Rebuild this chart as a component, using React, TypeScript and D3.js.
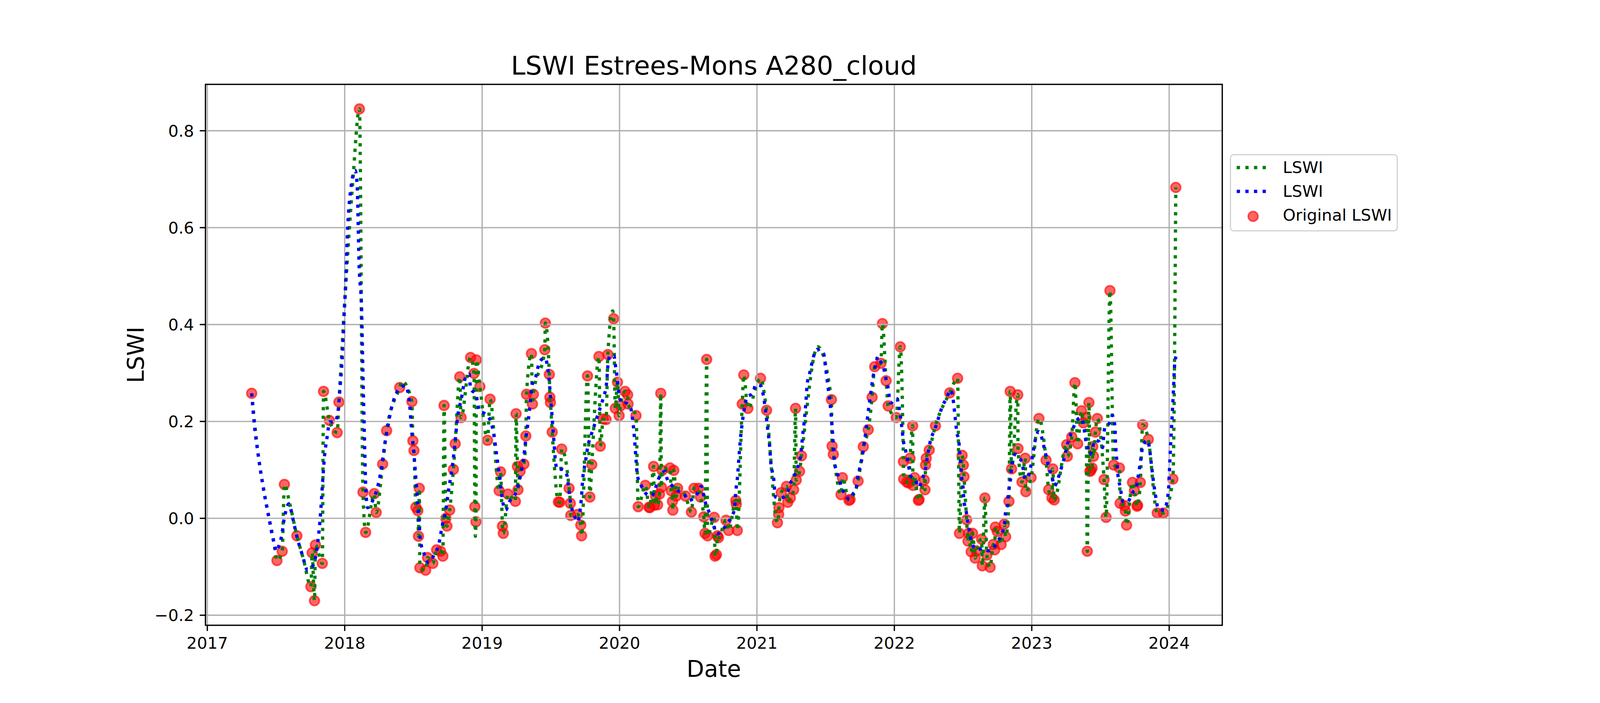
import * as d3 from 'd3';

// decimal year, LSWI value (red scatter: original observations)
const originalLSWI: [number, number][] = [
  [2017.323, 0.258], [2017.507, -0.087], [2017.545, -0.068], [2017.561, 0.070], [2017.652, -0.036],
  [2017.754, -0.141], [2017.763, -0.071], [2017.780, -0.170], [2017.787, -0.055], [2017.837, -0.093],
  [2017.846, 0.262], [2017.889, 0.202], [2017.945, 0.177], [2017.958, 0.240], [2018.107, 0.845],
  [2018.133, 0.054], [2018.152, -0.029], [2018.215, 0.051], [2018.229, 0.012], [2018.276, 0.112],
  [2018.305, 0.181], [2018.400, 0.270], [2018.489, 0.241], [2018.496, 0.160], [2018.504, 0.140],
  [2018.518, 0.023], [2018.532, 0.016], [2018.537, -0.037], [2018.543, 0.062], [2018.547, -0.102],
  [2018.589, -0.107], [2018.603, -0.081], [2018.641, -0.093], [2018.669, -0.065], [2018.698, -0.068],
  [2018.714, -0.078], [2018.723, 0.233], [2018.736, 0.000], [2018.744, -0.016], [2018.764, 0.017],
  [2018.791, 0.101], [2018.804, 0.154], [2018.837, 0.292], [2018.847, 0.208], [2018.916, 0.332],
  [2018.941, 0.299], [2018.947, 0.024], [2018.955, -0.007], [2018.958, 0.327], [2018.984, 0.272],
  [2019.039, 0.161], [2019.058, 0.246], [2019.124, 0.057], [2019.134, 0.096], [2019.148, -0.016],
  [2019.154, -0.031], [2019.188, 0.050], [2019.242, 0.035], [2019.247, 0.216], [2019.257, 0.107],
  [2019.261, 0.059], [2019.276, 0.097], [2019.304, 0.112], [2019.318, 0.170], [2019.323, 0.256],
  [2019.359, 0.340], [2019.366, 0.236], [2019.373, 0.256], [2019.456, 0.348], [2019.460, 0.403],
  [2019.489, 0.297], [2019.493, 0.250], [2019.497, 0.239], [2019.510, 0.178], [2019.555, 0.034],
  [2019.565, 0.033], [2019.579, 0.143], [2019.633, 0.062], [2019.642, 0.031], [2019.645, 0.006],
  [2019.694, 0.008], [2019.718, -0.014], [2019.724, -0.036], [2019.767, 0.294], [2019.784, 0.044],
  [2019.798, 0.111], [2019.850, 0.334], [2019.860, 0.149], [2019.882, 0.205], [2019.902, 0.204],
  [2019.915, 0.338], [2019.957, 0.412], [2019.969, 0.227], [2019.985, 0.281], [2019.997, 0.212],
  [2020.007, 0.232], [2020.040, 0.262], [2020.059, 0.255], [2020.062, 0.236], [2020.120, 0.212],
  [2020.136, 0.024], [2020.188, 0.068], [2020.215, 0.023], [2020.220, 0.022], [2020.248, 0.107],
  [2020.253, 0.027], [2020.262, 0.046], [2020.277, 0.028], [2020.291, 0.050], [2020.300, 0.258],
  [2020.305, 0.064], [2020.310, 0.099], [2020.367, 0.104], [2020.376, 0.057], [2020.385, 0.035],
  [2020.388, 0.017], [2020.395, 0.099], [2020.413, 0.046], [2020.423, 0.062], [2020.480, 0.046],
  [2020.523, 0.013], [2020.542, 0.062], [2020.575, 0.062], [2020.589, 0.044], [2020.613, 0.003],
  [2020.622, -0.031], [2020.634, 0.328], [2020.641, -0.036], [2020.689, 0.002], [2020.695, -0.078],
  [2020.705, -0.075], [2020.713, -0.036], [2020.720, -0.040], [2020.775, -0.004], [2020.794, -0.025],
  [2020.846, 0.037], [2020.850, 0.029], [2020.857, -0.025], [2020.893, 0.236], [2020.904, 0.296],
  [2020.934, 0.227], [2021.026, 0.289], [2021.070, 0.223], [2021.149, -0.009], [2021.158, 0.008],
  [2021.160, 0.022], [2021.177, 0.053], [2021.215, 0.066], [2021.224, 0.033], [2021.243, 0.042],
  [2021.267, 0.059], [2021.281, 0.227], [2021.286, 0.079], [2021.310, 0.097], [2021.324, 0.129],
  [2021.542, 0.245], [2021.547, 0.149], [2021.556, 0.132], [2021.612, 0.049], [2021.622, 0.084],
  [2021.670, 0.037], [2021.678, 0.039], [2021.736, 0.077], [2021.774, 0.148], [2021.810, 0.183],
  [2021.838, 0.250], [2021.857, 0.313], [2021.902, 0.320], [2021.913, 0.402], [2021.940, 0.284],
  [2021.955, 0.232], [2022.014, 0.208], [2022.043, 0.354], [2022.066, 0.117], [2022.068, 0.081],
  [2022.090, 0.075], [2022.104, 0.073], [2022.114, 0.124], [2022.133, 0.191], [2022.135, 0.068],
  [2022.147, 0.084], [2022.175, 0.037], [2022.180, 0.039], [2022.218, 0.079], [2022.223, 0.059],
  [2022.227, 0.110], [2022.232, 0.124], [2022.254, 0.141], [2022.299, 0.191], [2022.403, 0.259],
  [2022.460, 0.289], [2022.474, -0.031], [2022.493, 0.130], [2022.502, 0.110], [2022.507, 0.086],
  [2022.526, -0.003], [2022.536, -0.047], [2022.540, -0.031], [2022.559, -0.069], [2022.569, -0.031],
  [2022.588, -0.082], [2022.597, -0.067], [2022.635, -0.043], [2022.640, -0.098], [2022.659, 0.042],
  [2022.673, -0.076], [2022.697, -0.101], [2022.720, -0.054], [2022.730, -0.065], [2022.735, -0.018],
  [2022.749, -0.027], [2022.777, -0.054], [2022.800, -0.012], [2022.810, -0.038], [2022.834, 0.035],
  [2022.843, 0.262], [2022.853, 0.102], [2022.898, 0.255], [2022.900, 0.144], [2022.929, 0.075],
  [2022.952, 0.124], [2022.957, 0.055], [2022.995, 0.084], [2023.052, 0.206], [2023.104, 0.120],
  [2023.123, 0.059], [2023.147, 0.042], [2023.153, 0.102], [2023.163, 0.038], [2023.254, 0.152],
  [2023.259, 0.128], [2023.291, 0.168], [2023.314, 0.280], [2023.334, 0.154], [2023.362, 0.222],
  [2023.376, 0.197], [2023.395, 0.208], [2023.404, -0.068], [2023.416, 0.239], [2023.423, 0.097],
  [2023.430, 0.099], [2023.439, 0.104], [2023.444, 0.148], [2023.449, 0.128], [2023.463, 0.178],
  [2023.477, 0.206], [2023.526, 0.080], [2023.541, 0.002], [2023.569, 0.470], [2023.596, 0.110],
  [2023.638, 0.104], [2023.643, 0.031], [2023.676, 0.026], [2023.681, 0.015], [2023.690, -0.014],
  [2023.733, 0.074], [2023.747, 0.057], [2023.766, 0.025], [2023.770, 0.027], [2023.790, 0.074],
  [2023.807, 0.193], [2023.848, 0.163], [2023.913, 0.011], [2023.958, 0.011], [2024.027, 0.081],
  [2024.048, 0.683],
];

// extra points of the green (gap-filled) LSWI curve where no observation exists
const gapFilledExtra: [number, number][] = [
  [2017.370, 0.132], [2017.410, 0.060], [2017.450, 0.000], [2017.485, -0.050],
  [2017.600, 0.030], [2017.700, -0.085],
  [2018.005, 0.470], [2018.060, 0.700],
  [2018.416, 0.283], [2018.951, -0.037], [2019.950, 0.428], [2021.442, 0.354],
];

// blue smoothed LSWI
const smoothedLSWI: [number, number][] = [
  [2017.323, 0.258], [2017.342, 0.194], [2017.370, 0.132], [2017.408, 0.062], [2017.446, 0.004],
  [2017.484, -0.049], [2017.503, -0.068], [2017.522, -0.056], [2017.541, -0.036], [2017.560, 0.000],
  [2017.574, 0.017], [2017.593, 0.030], [2017.626, -0.005], [2017.654, -0.040], [2017.692, -0.076],
  [2017.730, -0.107], [2017.770, -0.097], [2017.806, -0.045], [2017.825, 0.013], [2017.839, 0.075],
  [2017.853, 0.128], [2017.872, 0.168], [2017.891, 0.199], [2017.929, 0.199], [2017.953, 0.225],
  [2017.967, 0.274], [2017.981, 0.327], [2017.995, 0.415], [2018.005, 0.473], [2018.022, 0.603],
  [2018.043, 0.677], [2018.076, 0.718], [2018.090, 0.690], [2018.105, 0.520], [2018.123, 0.429],
  [2018.133, 0.296], [2018.142, 0.185], [2018.152, 0.075], [2018.166, 0.022], [2018.185, 0.026],
  [2018.204, 0.037], [2018.232, 0.057], [2018.260, 0.092], [2018.280, 0.128], [2018.290, 0.150],
  [2018.310, 0.183], [2018.338, 0.225], [2018.366, 0.252], [2018.395, 0.267], [2018.442, 0.274],
  [2018.471, 0.239], [2018.485, 0.188], [2018.504, 0.132], [2018.523, 0.062], [2018.537, 0.008],
  [2018.551, -0.045], [2018.575, -0.071], [2018.608, -0.091], [2018.650, -0.076], [2018.684, -0.054],
  [2018.712, -0.012], [2018.736, 0.017], [2018.755, 0.057], [2018.783, 0.106], [2018.802, 0.154],
  [2018.821, 0.208], [2018.849, 0.247], [2018.878, 0.290], [2018.906, 0.298], [2018.916, 0.267],
  [2018.954, 0.256], [2018.982, 0.221], [2019.020, 0.216], [2019.058, 0.203], [2019.086, 0.172],
  [2019.105, 0.132], [2019.124, 0.093], [2019.152, 0.031], [2019.171, 0.017], [2019.200, 0.035],
  [2019.238, 0.048], [2019.276, 0.084], [2019.299, 0.119], [2019.318, 0.163], [2019.342, 0.216],
  [2019.366, 0.278], [2019.390, 0.292], [2019.418, 0.323], [2019.456, 0.331], [2019.484, 0.296],
  [2019.495, 0.260], [2019.505, 0.225], [2019.514, 0.190], [2019.524, 0.154], [2019.533, 0.119],
  [2019.547, 0.101], [2019.585, 0.101], [2019.618, 0.088], [2019.627, 0.070], [2019.642, 0.035],
  [2019.656, 0.017], [2019.680, 0.000], [2019.699, -0.007], [2019.708, 0.008], [2019.718, 0.028],
  [2019.723, 0.044], [2019.732, 0.081], [2019.751, 0.115], [2019.770, 0.150], [2019.789, 0.168],
  [2019.808, 0.185], [2019.827, 0.200], [2019.846, 0.218], [2019.865, 0.232], [2019.883, 0.250],
  [2019.898, 0.265], [2019.907, 0.283], [2019.912, 0.303], [2019.917, 0.320], [2019.931, 0.336],
  [2019.959, 0.336], [2019.969, 0.318], [2019.978, 0.300], [2019.992, 0.265], [2020.002, 0.247],
  [2020.026, 0.236], [2020.045, 0.238], [2020.082, 0.227], [2020.092, 0.210], [2020.101, 0.190],
  [2020.111, 0.157], [2020.120, 0.121], [2020.130, 0.088], [2020.158, 0.068], [2020.196, 0.050],
  [2020.234, 0.046], [2020.258, 0.059], [2020.277, 0.077], [2020.300, 0.090], [2020.333, 0.097],
  [2020.347, 0.081], [2020.380, 0.068], [2020.423, 0.057], [2020.470, 0.050], [2020.503, 0.037],
  [2020.556, 0.046], [2020.594, 0.066], [2020.622, 0.035], [2020.646, 0.017], [2020.674, -0.005],
  [2020.710, -0.032], [2020.751, -0.023], [2020.789, -0.009], [2020.817, 0.004], [2020.836, 0.019],
  [2020.846, 0.055], [2020.860, 0.090], [2020.869, 0.126], [2020.879, 0.161], [2020.893, 0.197],
  [2020.912, 0.232], [2020.926, 0.250], [2020.969, 0.258], [2020.992, 0.276], [2021.026, 0.274],
  [2021.045, 0.256], [2021.063, 0.221], [2021.078, 0.185], [2021.092, 0.150], [2021.101, 0.115],
  [2021.111, 0.097], [2021.123, 0.079], [2021.134, 0.044], [2021.177, 0.042], [2021.224, 0.055],
  [2021.239, 0.070], [2021.267, 0.084], [2021.290, 0.101], [2021.319, 0.132], [2021.333, 0.172],
  [2021.347, 0.208], [2021.357, 0.243], [2021.366, 0.278], [2021.381, 0.296], [2021.395, 0.314],
  [2021.414, 0.336], [2021.442, 0.349], [2021.457, 0.343], [2021.485, 0.340], [2021.499, 0.312],
  [2021.508, 0.292], [2021.523, 0.258], [2021.537, 0.223], [2021.547, 0.188], [2021.556, 0.152],
  [2021.565, 0.115], [2021.580, 0.097], [2021.599, 0.081], [2021.613, 0.066], [2021.641, 0.050],
  [2021.674, 0.039], [2021.698, 0.050], [2021.722, 0.062], [2021.736, 0.088], [2021.750, 0.106],
  [2021.764, 0.123], [2021.783, 0.159], [2021.797, 0.190], [2021.812, 0.225], [2021.830, 0.261],
  [2021.840, 0.283], [2021.854, 0.305], [2021.868, 0.320], [2021.878, 0.334], [2021.892, 0.327],
  [2021.925, 0.307], [2021.938, 0.289], [2021.953, 0.272], [2021.972, 0.238], [2021.995, 0.243],
  [2022.019, 0.247], [2022.033, 0.230], [2022.052, 0.194], [2022.066, 0.159], [2022.081, 0.141],
  [2022.095, 0.123], [2022.118, 0.088], [2022.152, 0.079], [2022.180, 0.064], [2022.199, 0.079],
  [2022.223, 0.097], [2022.242, 0.130], [2022.265, 0.163], [2022.294, 0.183], [2022.322, 0.208],
  [2022.350, 0.232], [2022.379, 0.247], [2022.408, 0.265], [2022.427, 0.247], [2022.441, 0.212],
  [2022.455, 0.177], [2022.469, 0.159], [2022.479, 0.123], [2022.488, 0.088], [2022.498, 0.070],
  [2022.507, 0.035], [2022.521, 0.017], [2022.540, -0.018], [2022.569, -0.054], [2022.602, -0.065],
  [2022.645, -0.062], [2022.682, -0.067], [2022.720, -0.062], [2022.749, -0.047], [2022.777, -0.036],
  [2022.801, -0.012], [2022.810, 0.015], [2022.825, 0.031], [2022.829, 0.050], [2022.839, 0.068],
  [2022.848, 0.088], [2022.853, 0.103], [2022.862, 0.121], [2022.881, 0.132], [2022.905, 0.126],
  [2022.929, 0.115], [2022.952, 0.081], [2022.981, 0.092], [2023.000, 0.119], [2023.014, 0.144],
  [2023.028, 0.165], [2023.052, 0.179], [2023.071, 0.168], [2023.090, 0.146], [2023.109, 0.123],
  [2023.128, 0.101], [2023.147, 0.086], [2023.166, 0.067], [2023.193, 0.084], [2023.212, 0.101],
  [2023.231, 0.119], [2023.259, 0.152], [2023.297, 0.183], [2023.326, 0.201], [2023.354, 0.208],
  [2023.378, 0.190], [2023.392, 0.163], [2023.406, 0.146], [2023.420, 0.132], [2023.439, 0.141],
  [2023.458, 0.161], [2023.487, 0.159], [2023.515, 0.146], [2023.525, 0.175], [2023.534, 0.190],
  [2023.567, 0.197], [2023.586, 0.212], [2023.605, 0.190], [2023.610, 0.154], [2023.619, 0.119],
  [2023.629, 0.084], [2023.643, 0.066], [2023.662, 0.035], [2023.695, 0.033], [2023.733, 0.053],
  [2023.761, 0.064], [2023.771, 0.081], [2023.790, 0.115], [2023.809, 0.150], [2023.842, 0.161],
  [2023.856, 0.146], [2023.871, 0.110], [2023.886, 0.075], [2023.900, 0.048], [2023.922, 0.019],
  [2023.965, 0.017], [2023.984, 0.035], [2023.993, 0.053], [2023.998, 0.070], [2024.003, 0.106],
  [2024.012, 0.159], [2024.022, 0.212], [2024.031, 0.265], [2024.040, 0.318], [2024.050, 0.334],
];

const yearTicks = [2017, 2018, 2019, 2020, 2021, 2022, 2023, 2024];
const valueTicks = [-0.2, 0, 0.2, 0.4, 0.6, 0.8];
const legendLabels = ['LSWI', 'LSWI', 'Original LSWI'];

const W = 4200;
const H = 1800;
const plot = { left: 526, right: 3129, top: 216, bottom: 1601 };
const FONT = "'DejaVu Sans', sans-serif";
const PT = 300 / 72;

export default function App() {
  const gapFilled = [...originalLSWI, ...gapFilledExtra].sort((a, b) => a[0] - b[0]);
  const all = [...gapFilled, ...smoothedLSWI];

  // matplotlib-like 5% margins
  const [x0, x1] = d3.extent(all, d => d[0]) as [number, number];
  const [y0, y1] = d3.extent(all, d => d[1]) as [number, number];
  const xPad = (x1 - x0) * 0.05;
  const yPad = (y1 - y0) * 0.05;
  const x = d3.scaleLinear().domain([x0 - xPad, x1 + xPad]).range([plot.left, plot.right]);
  const y = d3.scaleLinear().domain([y0 - yPad, y1 + yPad]).range([plot.bottom, plot.top]);

  const line = d3.line<[number, number]>().x(d => x(d[0])).y(d => y(d[1])).curve(d3.curveMonotoneX);

  const lw = 2 * PT;
  const dash = `${lw} ${1.65 * lw}`;
  const tickLen = 3.5 * PT;
  const spineW = 0.8 * PT;
  const tickFont = 10 * PT;

  const lg = { left: 3150, top: 396, width: 427, height: 195 };
  const rowY = [429, 490, 551];

  return (
    <svg width={W} height={H} style={{ position: 'absolute', left: 0, top: 0, background: '#fff' }}
      fontFamily={FONT}>
      <rect x={0} y={0} width={W} height={H} fill="#fff" />

      {/* scatter */}
      <g>
        {originalLSWI.map((d, i) => (
          <circle key={i} cx={x(d[0])} cy={y(d[1])} r={3 * PT}
            fill="#ff0000" fillOpacity={0.6} stroke="#ff0000" strokeOpacity={0.6} strokeWidth={1 * PT} />
        ))}
      </g>

      {/* grid */}
      <g stroke="#b0b0b0" strokeWidth={spineW}>
        {yearTicks.map(t => (
          <line key={t} x1={x(t)} x2={x(t)} y1={plot.top} y2={plot.bottom} />
        ))}
        {valueTicks.map(t => (
          <line key={t} x1={plot.left} x2={plot.right} y1={y(t)} y2={y(t)} />
        ))}
      </g>

      {/* lines */}
      <path d={line(gapFilled) ?? ''} fill="none" stroke="#008000" strokeWidth={lw} strokeDasharray={dash} />
      <path d={line(smoothedLSWI) ?? ''} fill="none" stroke="#0000ff" strokeWidth={lw} strokeDasharray={dash} />

      {/* spines */}
      <rect x={plot.left} y={plot.top} width={plot.right - plot.left} height={plot.bottom - plot.top}
        fill="none" stroke="#000" strokeWidth={spineW} />

      {/* x ticks */}
      <g>
        {yearTicks.map(t => (
          <g key={t}>
            <line x1={x(t)} x2={x(t)} y1={plot.bottom} y2={plot.bottom + tickLen} stroke="#000" strokeWidth={spineW} />
            <text x={x(t)} y={1661} textAnchor="middle" fontSize={tickFont} fill="#000">{t}</text>
          </g>
        ))}
      </g>

      {/* y ticks */}
      <g>
        {valueTicks.map(t => (
          <g key={t}>
            <line x1={plot.left - tickLen} x2={plot.left} y1={y(t)} y2={y(t)} stroke="#000" strokeWidth={spineW} />
            <text x={plot.left - tickLen - 3.5 * PT} y={y(t) + 15} textAnchor="end" fontSize={tickFont} fill="#000">
              {d3.format('.1f')(t).replace('-', '\u2212')}
            </text>
          </g>
        ))}
      </g>

      {/* labels */}
      <text x={(plot.left + plot.right) / 2} y={191} textAnchor="middle" fontSize={16 * PT} fill="#000">
        LSWI Estrees-Mons A280_cloud
      </text>
      <text x={(plot.left + plot.right) / 2} y={1733} textAnchor="middle" fontSize={14 * PT} fill="#000">Date</text>
      <text transform={`translate(368,${(plot.top + plot.bottom) / 2}) rotate(-90)`} textAnchor="middle"
        fontSize={14 * PT} fill="#000">LSWI</text>

      {/* legend */}
      <g>
        <rect x={lg.left} y={lg.top} width={lg.width} height={lg.height} rx={0.2 * tickFont}
          fill="#fff" fillOpacity={0.8} stroke="#d6d6d6" strokeWidth={spineW} />
        <line x1={3166} x2={3249} y1={rowY[0]} y2={rowY[0]} stroke="#008000" strokeWidth={lw} strokeDasharray={dash} />
        <line x1={3166} x2={3249} y1={rowY[1]} y2={rowY[1]} stroke="#0000ff" strokeWidth={lw} strokeDasharray={dash} />
        <circle cx={3208} cy={rowY[2] + 3} r={3 * PT} fill="#ff0000" fillOpacity={0.6}
          stroke="#ff0000" strokeOpacity={0.6} strokeWidth={1 * PT} />
        {legendLabels.map((l, i) => (
          <text key={i} x={3284} y={rowY[i] + 14} fontSize={tickFont} fill="#000">{l}</text>
        ))}
      </g>
    </svg>
  );
}
